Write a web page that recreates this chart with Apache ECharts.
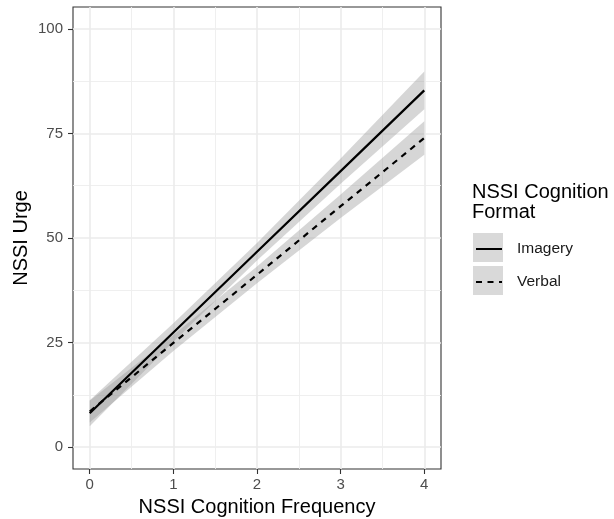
<!DOCTYPE html>
<html>
<head>
<meta charset="utf-8">
<script src="https://cdn.jsdelivr.net/npm/echarts@6/dist/echarts.min.js"></script>
<style>
  html, body { margin: 0; padding: 0; background: #fff; }
  #main { width: 614px; height: 519px; }
</style>
</head>
<body>
<div id="main"></div>
<script>
// NSSI cognition frequency (x) vs fitted urge, with confidence bands
var freq = [0, 1, 2, 3, 4];
var imageryFit = [8.1, 27.4, 46.7, 66.0, 85.3];
var imageryLow = [5.0, 25.2, 44.6, 63.0, 80.8];
var imageryHigh = [11.2, 29.6, 48.8, 69.0, 89.8];
var verbalFit = [8.5, 24.9, 41.2, 57.6, 73.9];
var verbalLow = [5.9, 23.0, 39.2, 54.8, 69.9];
var verbalHigh = [11.1, 26.8, 43.2, 60.4, 77.9];

var xTicks = [0, 1, 2, 3, 4];
var xMinor = [0.5, 1.5, 2.5, 3.5];
var yTicks = [0, 25, 50, 75, 100];
var yMinor = [12.5, 37.5, 62.5, 87.5];

var font = "'Liberation Sans', Arial, sans-serif";
var bandFill = "rgba(153,153,153,0.4)";

function pairs(ys) {
  return freq.map(function (x, i) { return [x, ys[i]]; });
}

// one polygon per band, lower edge forward then upper edge back
function bandRenderer(lo, hi) {
  return function (params, api) {
    if (params.dataIndex !== 0) return null;
    var pts = [];
    for (var i = 0; i < freq.length; i++) pts.push(api.coord([freq[i], lo[i]]));
    for (var j = freq.length - 1; j >= 0; j--) pts.push(api.coord([freq[j], hi[j]]));
    return {
      type: "polygon",
      shape: { points: pts },
      style: { fill: bandFill, stroke: null },
    };
  };
}

function handleDom() {
  var chartDom = document.getElementById("main");
  var myChart = echarts.init(chartDom);
  var option;

  var grid = { left: 73, right: 173, top: 7, bottom: 50, outerBoundsMode: "none" };

  option = {
    animation: false,
    backgroundColor: "#fff",
    textStyle: { fontFamily: font },
    grid: [
      Object.assign({ show: true, borderColor: "#333", borderWidth: 1.1, backgroundColor: "#fff", z: 0 }, grid),
      Object.assign({ show: false }, grid),
    ],
    xAxis: [
      {
        type: "value",
        gridIndex: 0,
        min: -0.2,
        max: 4.2,
        name: "NSSI Cognition Frequency",
        nameLocation: "middle",
        nameGap: 28,
        nameMoveOverlap: false,
        nameTextStyle: { fontSize: 20, color: "#000", fontFamily: font },
        axisLine: { show: false, onZero: false },
        axisTick: { show: true, length: 5, customValues: xTicks, lineStyle: { color: "#333", width: 1.1 } },
        axisLabel: { customValues: xTicks, fontSize: 15, color: "#4d4d4d", margin: 8, fontFamily: font },
        splitLine: { show: true, lineStyle: { color: "#ebebeb", width: 1.6 } },
      },
      {
        type: "value",
        gridIndex: 1,
        min: -0.2,
        max: 4.2,
        axisLine: { show: false, onZero: false },
        axisTick: { show: false, customValues: xMinor },
        axisLabel: { show: false, customValues: xMinor },
        splitLine: { show: true, lineStyle: { color: "#ededed", width: 0.9 } },
      },
    ],
    yAxis: [
      {
        type: "value",
        gridIndex: 0,
        min: -5.25,
        max: 105.25,
        name: "NSSI Urge",
        nameLocation: "middle",
        nameGap: 42,
        nameMoveOverlap: false,
        nameTextStyle: { fontSize: 20, color: "#000", fontFamily: font },
        axisLine: { show: false, onZero: false },
        axisTick: { show: true, length: 5, customValues: yTicks, lineStyle: { color: "#333", width: 1.1 } },
        axisLabel: { customValues: yTicks, fontSize: 15, color: "#4d4d4d", margin: 10, fontFamily: font },
        splitLine: { show: true, lineStyle: { color: "#ebebeb", width: 1.6 } },
      },
      {
        type: "value",
        gridIndex: 1,
        min: -5.25,
        max: 105.25,
        axisLine: { show: false, onZero: false },
        axisTick: { show: false, customValues: yMinor },
        axisLabel: { show: false, customValues: yMinor },
        splitLine: { show: true, lineStyle: { color: "#ededed", width: 0.9 } },
      },
    ],
    legend: {
      data: ["Imagery", "Verbal"],
      orient: "vertical",
      left: 475,
      top: 241,
      padding: 0,
      itemWidth: 26,
      itemHeight: 16,
      itemGap: 17,
      selectedMode: false,
      itemStyle: { opacity: 0 },
      textStyle: { fontSize: 15.5, lineHeight: 16, color: "#1a1a1a", fontFamily: font, padding: [0, 0, 0, 10] },
    },
    graphic: [
      {
        type: "text",
        left: 472,
        top: 182,
        style: {
          text: "NSSI Cognition\nFormat",
          font: "20px " + font,
          lineHeight: 20,
          fill: "#000",
        },
      },
      { type: "rect", left: 473, top: 233, z: -1, shape: { width: 30, height: 29 }, style: { fill: "#d9d9d9" } },
      { type: "rect", left: 473, top: 266, z: -1, shape: { width: 30, height: 29 }, style: { fill: "#d9d9d9" } },
    ],
    series: [
      {
        name: "imageryBand",
        type: "custom",
        renderItem: bandRenderer(imageryLow, imageryHigh),
        data: freq.map(function (x, i) { return [x, imageryLow[i], imageryHigh[i]]; }),
        encode: { x: 0, y: [1, 2] },
        silent: true,
        z: 1,
      },
      {
        name: "verbalBand",
        type: "custom",
        renderItem: bandRenderer(verbalLow, verbalHigh),
        data: freq.map(function (x, i) { return [x, verbalLow[i], verbalHigh[i]]; }),
        encode: { x: 0, y: [1, 2] },
        silent: true,
        z: 1,
      },
      {
        name: "Imagery",
        type: "line",
        data: pairs(imageryFit),
        symbol: "none",
        color: "#000",
        itemStyle: { opacity: 0 },
        lineStyle: { color: "#000", width: 2.2, type: "solid" },
        z: 3,
      },
      {
        name: "Verbal",
        type: "line",
        data: pairs(verbalFit),
        symbol: "none",
        color: "#000",
        itemStyle: { opacity: 0 },
        lineStyle: { color: "#000", width: 2.2, type: [6, 5.5] },
        z: 3,
      },
    ],
  };
  myChart.setOption(option);
}
handleDom();
</script>
</body>
</html>
